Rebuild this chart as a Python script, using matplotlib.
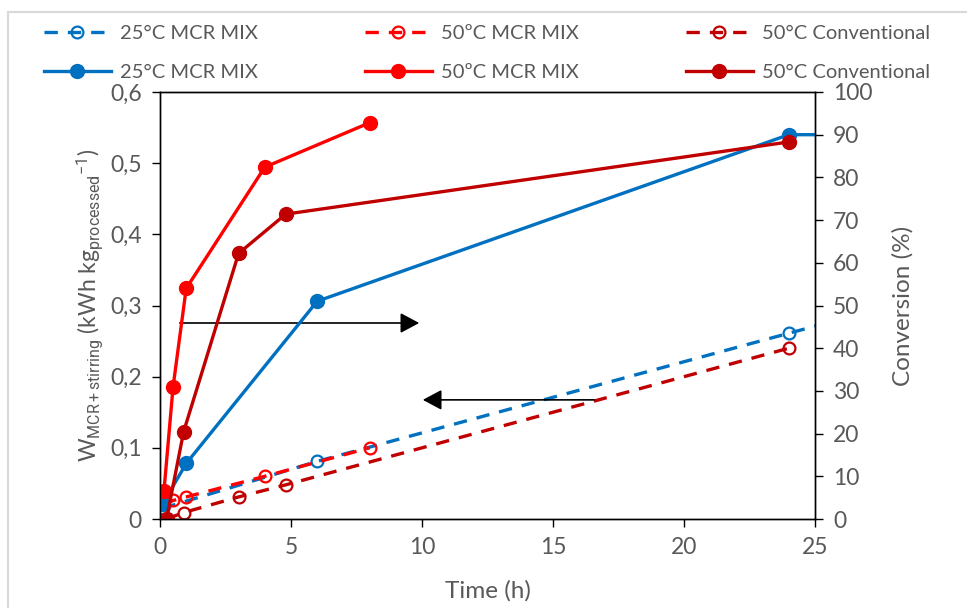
import matplotlib
matplotlib.use("Agg")
import matplotlib.pyplot as plt
from matplotlib import font_manager
from matplotlib.patches import Rectangle

installed = {f.name for f in font_manager.fontManager.ttflist}
narrow = 'Liberation Sans Narrow' if 'Liberation Sans Narrow' in installed else 'Roboto'

plt.rcParams['font.family'] = ['Lato', 'DejaVu Sans']
plt.rcParams['mathtext.fontset'] = 'custom'
plt.rcParams['mathtext.rm'] = 'Lato'
plt.rcParams['mathtext.it'] = 'Lato:italic'
plt.rcParams['mathtext.sf'] = narrow

# Energy consumption (left axis), kWh per kg processed
t_25_energy = [0.1, 6, 24, 48]
w_25_energy = [0.015, 0.081, 0.261, 0.50]
t_50_energy = [0.15, 0.5, 1, 4, 8]
w_50_energy = [0.020, 0.026, 0.031, 0.060, 0.100]
t_conv_energy = [0.25, 0.9, 3, 4.8, 24]
w_conv_energy = [0.0, 0.009, 0.031, 0.048, 0.240]

# Conversion (right axis), %
t_25_conv = [0.1, 1, 6, 24, 48]
c_25_conv = [3.5, 13, 51, 90, 90]
t_50_conv = [0.15, 0.5, 1, 4, 8]
c_50_conv = [6.5, 31, 54, 82.4, 92.8]
t_conv_conv = [0.25, 0.9, 3, 4.8, 24]
c_conv_conv = [0, 20.4, 62.2, 71.4, 88.3]

labels = ["25°C MCR MIX", "50ºC MCR MIX", "50°C Conventional"]
colors = ["#0070C0", "#FF0000", "#C00000"]
x_ticks = [0, 5, 10, 15, 20, 25]
left_ticks = [0, 0.1, 0.2, 0.3, 0.4, 0.5, 0.6]
left_tick_labels = ["0", "0,1", "0,2", "0,3", "0,4", "0,5", "0,6"]
right_ticks = list(range(0, 101, 10))

text_gray = "#595959"
tick_fs = 16.5
label_fs = 17.5
legend_fs = 14.5

fig = plt.figure(figsize=(9.67, 6.08), dpi=100)
fig.patches.append(Rectangle((8 / 967, -0.05), 1.1, 1 - 12 / 608 + 0.05,
                             transform=fig.transFigure, fill=False,
                             edgecolor="#D9D9D9", lw=1.5, zorder=0))

ax = fig.add_axes([160 / 967, 1 - 519 / 608, 655 / 967, 427 / 608])
ax2 = ax.twinx()

dash = (4, 3)
energy = [(t_25_energy, w_25_energy), (t_50_energy, w_50_energy), (t_conv_energy, w_conv_energy)]
conv = [(t_25_conv, c_25_conv), (t_50_conv, c_50_conv), (t_conv_conv, c_conv_conv)]

handles = []
for (tx, wy), (tc, cy), col, lab in zip(energy, conv, colors, labels):
    h1, = ax.plot(tx, wy, color=col, lw=2.4, dashes=dash, marker='o', ms=8.5,
                  mfc='none', mec=col, mew=1.6, label=lab)
    h2, = ax2.plot(tc, cy, color=col, lw=2.4, marker='o', ms=10, mfc=col,
                   mec=col, label=lab)
    handles += [h1, h2]

ax.set_xlim(0, 25)
ax.set_ylim(0, 0.6)
ax2.set_ylim(0, 100)
ax.set_xticks(x_ticks)
ax.set_xticklabels([str(v) for v in x_ticks])
ax.set_yticks(left_ticks)
ax.set_yticklabels(left_tick_labels)
ax2.set_yticks(right_ticks)

for a in (ax, ax2):
    for s in a.spines.values():
        s.set_color("black")
        s.set_linewidth(1.0)
    a.tick_params(axis='both', direction='out', length=6, width=1.0,
                  colors="black", labelcolor=text_gray, labelsize=tick_fs, pad=7)

ax.set_xlabel("Time (h)", color=text_gray, fontsize=label_fs, labelpad=16)
ax.set_ylabel(r"W$_{\mathsf{MCR+stirring}}$ (kWh kg$_{\mathsf{processed}}$$^{\mathsf{-1}}$)",
              color=text_gray, fontsize=16.5, labelpad=4)
ax2.set_ylabel("Conversion (%)", color=text_gray, fontsize=label_fs, labelpad=14)

# Direction arrows pointing to the relevant axis
arrow_style = dict(arrowstyle='-|>,head_length=0.58,head_width=0.31',
                   mutation_scale=20, lw=1.2, color='black')
ax.annotate("", xy=(0.40, 0.459), xytext=(0.026, 0.459),
            xycoords='axes fraction', arrowprops=arrow_style)
ax.annotate("", xy=(0.397, 0.279), xytext=(0.667, 0.279),
            xycoords='axes fraction', arrowprops=arrow_style)

leg = fig.legend(handles=handles, labels=[h.get_label() for h in handles],
                 ncol=3, loc='upper left', bbox_to_anchor=(36 / 967, 1 - 17 / 608),
                 frameon=False, fontsize=legend_fs, handlelength=3.3, handletextpad=0.45,
                 columnspacing=5.35, labelspacing=1.1, borderaxespad=0)
for txt in leg.get_texts():
    txt.set_color(text_gray)

fig.savefig("out.png", dpi=100)
